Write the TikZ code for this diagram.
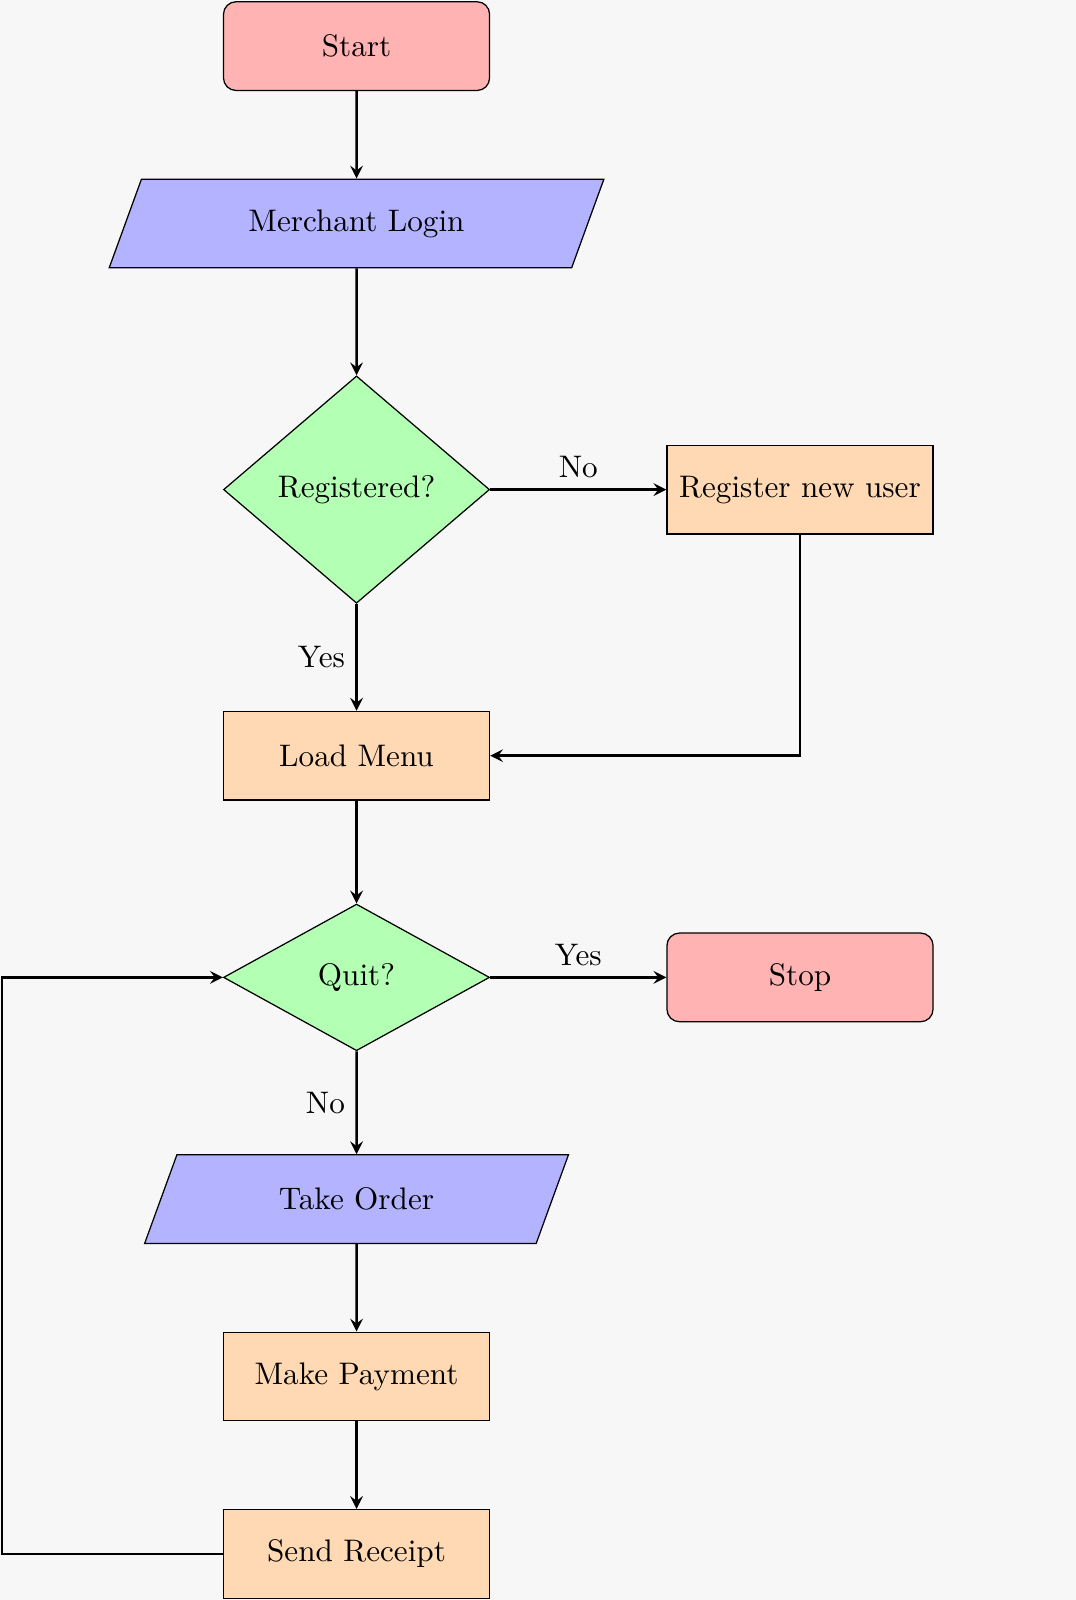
\documentclass[tikz,border=0pt]{standalone}
\definecolor{fcTerm}{RGB}{255,179,179}
\definecolor{fcIO}{RGB}{179,179,255}
\definecolor{fcProc}{RGB}{255,217,179}
\definecolor{fcDec}{RGB}{179,255,179}
\definecolor{fcBg}{RGB}{247,247,247}
\usepackage{tikz}
\usetikzlibrary{shapes,arrows,positioning}
\usetikzlibrary{arrows.meta}

\tikzset{
    termbox/.style={rectangle, rounded corners, minimum width=3cm, minimum height=1cm, text centered, draw=black, fill=fcTerm},
    iobox/.style={trapezium, trapezium left angle=70, trapezium right angle=110, minimum width=3cm, minimum height=1cm, text centered, draw=black, fill=fcIO},
    procbox/.style={rectangle, minimum width=3cm, minimum height=1cm, text centered, draw=black, fill=fcProc},
    decbox/.style={diamond, minimum width=3cm, minimum height=1cm, text centered, draw=black, fill=fcDec},
    flow/.style={thick, ->, >=stealth}
}

\begin{document}
\begin{tikzpicture}[scale=1.0]
    % background and page size
    \fill[fcBg] (-4.02,0.52) rectangle (8.11,-17.52);
    \useasboundingbox (-4.02,0.52) rectangle (8.11,-17.52);

    % main column
    \node (start)    [termbox] at (0,0)     {Start};
    \node (login)    [iobox]   at (0,-2)    {Merchant Login};
    \node (reg)      [decbox]  at (0,-5)    {Registered?};
    \node (newuser)  [procbox] at (5,-5)    {Register new user};
    \node (menu)     [procbox] at (0,-8)    {Load Menu};
    \node (quit)     [decbox]  at (0,-10.5) {Quit?};
    \node (stop)     [termbox] at (5,-10.5) {Stop};
    \node (order)    [iobox]   at (0,-13)   {Take Order};
    \node (pay)      [procbox] at (0,-15)   {Make Payment};
    \node (receipt)  [procbox] at (0,-17)   {Send Receipt};
    \coordinate (back) at (-4,-17);

    % connectors
    \draw[flow] (start) -- (login);
    \draw[flow] (login) -- (reg);
    \draw[flow] (reg) -- node[above] {No} (newuser);
    \draw[flow] (reg) -- node[left] {Yes} (menu);
    \draw[flow] (newuser) |- (menu);
    \draw[flow] (menu) -- (quit);
    \draw[flow] (quit) -- node[above] {Yes} (stop);
    \draw[flow] (quit) -- node[left] {No} (order);
    \draw[flow] (order) -- (pay);
    \draw[flow] (pay) -- (receipt);

    % loop back to Quit?
    \draw[flow] (receipt) -- (back) |- (quit);
\end{tikzpicture}
\end{document}
